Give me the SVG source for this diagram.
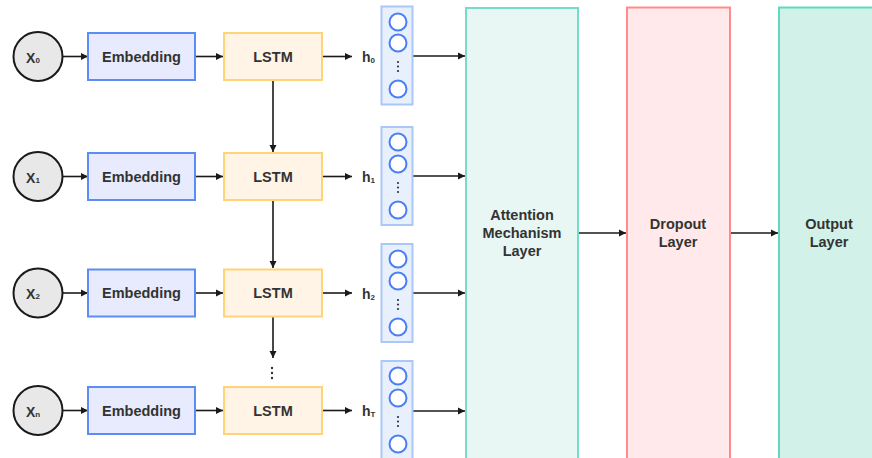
<svg xmlns="http://www.w3.org/2000/svg" width="872" height="458" viewBox="0 0 872 458">
<defs>
<marker id="ah" markerWidth="8" markerHeight="8" refX="7" refY="4" orient="auto" markerUnits="userSpaceOnUse">
<path d="M0,0.5 L7,4 L0,7.5 Z" fill="#1a1a1a"/>
</marker>
<style>
text{font-family:"Liberation Sans",Arial,sans-serif;font-weight:bold;fill:#333;}
.lbl{font-size:14.5px;text-anchor:middle;dominant-baseline:central;}
.sub{font-size:8px;}
.xc{fill:#e8e8e8;stroke:#1a1a1a;stroke-width:2;}
.emb{fill:#e8ebfd;stroke:#5a8ef5;stroke-width:2;}
.lstm{fill:#fff4e6;stroke:#ffd478;stroke-width:2;}
.vec{fill:#e8f0fd;stroke:#a9c8f8;stroke-width:2;}
.vc{fill:#fff;stroke:#4a7ef4;stroke-width:2;}
.dot{fill:#333;}
.att{fill:#e8f7f3;stroke:#74dcc8;stroke-width:2;}
.drop{fill:#ffe9ea;stroke:#ff8c8c;stroke-width:2;}
.out{fill:#d2f1e8;stroke:#62d8c0;stroke-width:2;}
.con{stroke:#1a1a1a;stroke-width:1.6;fill:none;marker-end:url(#ah);}
</style>
</defs>
<rect width="872" height="458" fill="#fff"/>

<g id="connectors">
<line class="con" x1="63" y1="56.5" x2="88" y2="56.5"/>
<line class="con" x1="195" y1="56.5" x2="223" y2="56.5"/>
<line class="con" x1="322" y1="56.5" x2="352" y2="56.5"/>
<line class="con" x1="413" y1="56" x2="465" y2="56"/>
<line class="con" x1="63" y1="176.5" x2="88" y2="176.5"/>
<line class="con" x1="195" y1="176.5" x2="223" y2="176.5"/>
<line class="con" x1="322" y1="176.5" x2="352" y2="176.5"/>
<line class="con" x1="413" y1="176" x2="465" y2="176"/>
<line class="con" x1="63" y1="293" x2="88" y2="293"/>
<line class="con" x1="195" y1="293" x2="223" y2="293"/>
<line class="con" x1="322" y1="293" x2="352" y2="293"/>
<line class="con" x1="413" y1="293" x2="465" y2="293"/>
<line class="con" x1="63" y1="410.5" x2="88" y2="410.5"/>
<line class="con" x1="195" y1="410.5" x2="223" y2="410.5"/>
<line class="con" x1="322" y1="410.5" x2="352" y2="410.5"/>
<line class="con" x1="413" y1="411" x2="465" y2="411"/>
<line class="con" x1="273" y1="80" x2="273" y2="152"/>
<line class="con" x1="273" y1="200" x2="273" y2="268"/>
<line class="con" x1="273" y1="317" x2="273" y2="358"/>
<line class="con" x1="579" y1="233" x2="626" y2="233"/>
<line class="con" x1="731" y1="233" x2="778" y2="233"/>
<circle class="dot" cx="272" cy="368" r="1.2"/>
<circle class="dot" cx="272" cy="373" r="1.2"/>
<circle class="dot" cx="272" cy="378" r="1.2"/>
</g>

<g id="x0"><circle class="xc" cx="38" cy="56.5" r="24.5"/><text x="33" y="57.5" class="lbl" style="font-size:14px">X<tspan class="sub" dy="2">0</tspan></text></g>
<g id="x1"><circle class="xc" cx="38" cy="176.5" r="24.5"/><text x="33" y="177.5" class="lbl" style="font-size:14px">X<tspan class="sub" dy="2">1</tspan></text></g>
<g id="x2"><circle class="xc" cx="38" cy="293" r="24.5"/><text x="33" y="294" class="lbl" style="font-size:14px">X<tspan class="sub" dy="2">2</tspan></text></g>
<g id="xn"><circle class="xc" cx="38" cy="410.5" r="24.5"/><text x="33" y="411.5" class="lbl" style="font-size:14px">X<tspan class="sub" dy="2">n</tspan></text></g>

<g id="emb0"><rect class="emb" x="88" y="33" width="107" height="47"/><text class="lbl" x="141.5" y="56.5">Embedding</text></g>
<g id="emb1"><rect class="emb" x="88" y="153" width="107" height="47"/><text class="lbl" x="141.5" y="176.5">Embedding</text></g>
<g id="emb2"><rect class="emb" x="88" y="269.5" width="107" height="47"/><text class="lbl" x="141.5" y="293">Embedding</text></g>
<g id="embn"><rect class="emb" x="88" y="387" width="107" height="47"/><text class="lbl" x="141.5" y="410.5">Embedding</text></g>

<g id="lstm0"><rect class="lstm" x="224" y="33" width="98" height="47"/><text class="lbl" x="273" y="56.5">LSTM</text></g>
<g id="lstm1"><rect class="lstm" x="224" y="153" width="98" height="47"/><text class="lbl" x="273" y="176.5">LSTM</text></g>
<g id="lstm2"><rect class="lstm" x="224" y="269.5" width="98" height="47"/><text class="lbl" x="273" y="293">LSTM</text></g>
<g id="lstmn"><rect class="lstm" x="224" y="387" width="98" height="47"/><text class="lbl" x="273" y="410.5">LSTM</text></g>

<g id="h0"><text x="362" y="61.5" style="font-size:14px">h<tspan class="sub" dy="1">0</tspan></text>
<rect class="vec" x="381.5" y="6.5" width="31" height="98"/>
<circle class="vc" cx="398" cy="22" r="8.5"/><circle class="vc" cx="398" cy="43" r="8.5"/>
<circle class="dot" cx="398" cy="62" r="1.1"/><circle class="dot" cx="398" cy="66.5" r="1.1"/><circle class="dot" cx="398" cy="71" r="1.1"/>
<circle class="vc" cx="398" cy="89" r="8.5"/></g>

<g id="h1"><text x="362" y="181.5" style="font-size:14px">h<tspan class="sub" dy="1">1</tspan></text>
<rect class="vec" x="381.5" y="127" width="31" height="98"/>
<circle class="vc" cx="398" cy="142" r="8.5"/><circle class="vc" cx="398" cy="164" r="8.5"/>
<circle class="dot" cx="398" cy="183" r="1.1"/><circle class="dot" cx="398" cy="187.5" r="1.1"/><circle class="dot" cx="398" cy="192" r="1.1"/>
<circle class="vc" cx="398" cy="210" r="8.5"/></g>

<g id="h2"><text x="362" y="298.5" style="font-size:14px">h<tspan class="sub" dy="1">2</tspan></text>
<rect class="vec" x="381.5" y="244" width="31" height="98"/>
<circle class="vc" cx="398" cy="259" r="8.5"/><circle class="vc" cx="398" cy="281" r="8.5"/>
<circle class="dot" cx="398" cy="300" r="1.1"/><circle class="dot" cx="398" cy="304.5" r="1.1"/><circle class="dot" cx="398" cy="309" r="1.1"/>
<circle class="vc" cx="398" cy="327" r="8.5"/></g>

<g id="hT"><text x="362" y="415.5" style="font-size:14px">h<tspan class="sub" dy="1">T</tspan></text>
<rect class="vec" x="381.5" y="361" width="31" height="104"/>
<circle class="vc" cx="398" cy="376" r="8.5"/><circle class="vc" cx="398" cy="398" r="8.5"/>
<circle class="dot" cx="398" cy="417" r="1.1"/><circle class="dot" cx="398" cy="421.5" r="1.1"/><circle class="dot" cx="398" cy="426" r="1.1"/>
<circle class="vc" cx="398" cy="444" r="8.5"/></g>

<g id="attention"><rect class="att" x="466" y="8" width="112" height="470"/>
<text class="lbl" x="522" y="215">Attention</text><text class="lbl" x="522" y="233">Mechanism</text><text class="lbl" x="522" y="251">Layer</text></g>
<g id="dropout"><rect class="drop" x="627" y="7.5" width="103" height="470"/>
<text class="lbl" x="678" y="224">Dropout</text><text class="lbl" x="678" y="242">Layer</text></g>
<g id="output"><rect class="out" x="779" y="7.5" width="110" height="470"/>
<text class="lbl" x="829" y="224">Output</text><text class="lbl" x="829" y="242">Layer</text></g>
</svg>
